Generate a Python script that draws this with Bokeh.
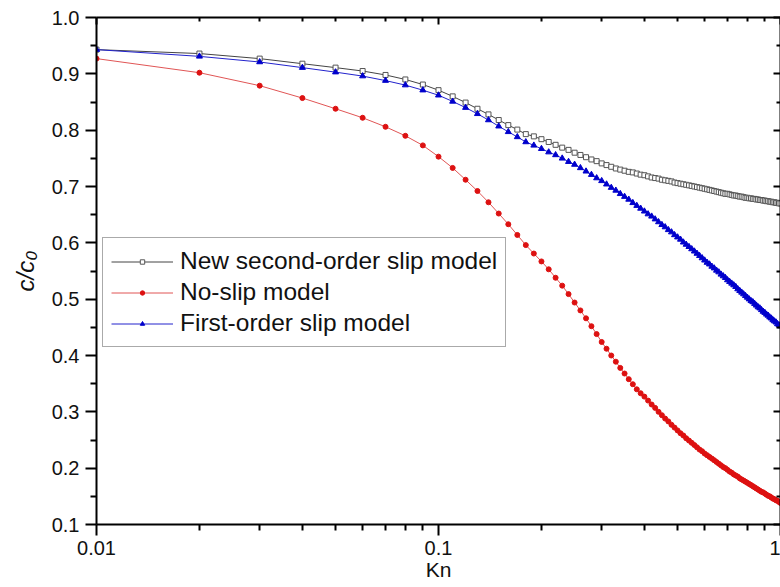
from bokeh.plotting import figure
from bokeh.models import (FixedTicker, LogAxis, LinearAxis, Legend, LegendItem,
                          CustomJSTickFormatter, Range1d)
from bokeh.embed import file_html
from bokeh.resources import INLINE

# ---- data ----
kn = [0.01, 0.02, 0.03, 0.04, 0.05, 0.06, 0.07, 0.08, 0.09, 0.10,
      0.11, 0.12, 0.13, 0.14, 0.15, 0.16, 0.17, 0.18, 0.19, 0.20,
      0.21, 0.22, 0.23, 0.24, 0.25, 0.26, 0.27, 0.28, 0.29, 0.30,
      0.31, 0.32, 0.33, 0.34, 0.35, 0.36, 0.37, 0.38, 0.39, 0.40,
      0.41, 0.42, 0.43, 0.44, 0.45, 0.46, 0.47, 0.48, 0.49, 0.50,
      0.51, 0.52, 0.53, 0.54, 0.55, 0.56, 0.57, 0.58, 0.59, 0.60,
      0.61, 0.62, 0.63, 0.64, 0.65, 0.66, 0.67, 0.68, 0.69, 0.70,
      0.71, 0.72, 0.73, 0.74, 0.75, 0.76, 0.77, 0.78, 0.79, 0.80,
      0.81, 0.82, 0.83, 0.84, 0.85, 0.86, 0.87, 0.88, 0.89, 0.90,
      0.91, 0.92, 0.93, 0.94, 0.95, 0.96, 0.97, 0.98, 0.99, 1.00]

second_order = [0.943, 0.936, 0.927, 0.918, 0.911, 0.905, 0.898, 0.890, 0.881, 0.871,
                0.860, 0.849, 0.838, 0.828, 0.818, 0.809, 0.801, 0.793, 0.789, 0.784,
                0.779, 0.774, 0.769, 0.765, 0.760, 0.756, 0.752, 0.748, 0.745, 0.741,
                0.738, 0.735, 0.732, 0.730, 0.728, 0.726, 0.725, 0.723, 0.721, 0.720,
                0.718, 0.716, 0.715, 0.714, 0.712, 0.711, 0.710, 0.709, 0.707, 0.706,
                0.705, 0.704, 0.703, 0.702, 0.701, 0.700, 0.699, 0.698, 0.697, 0.696,
                0.695, 0.694, 0.693, 0.692, 0.691, 0.690, 0.689, 0.688, 0.687, 0.687,
                0.686, 0.685, 0.684, 0.684, 0.683, 0.682, 0.682, 0.681, 0.680, 0.680,
                0.679, 0.679, 0.678, 0.678, 0.677, 0.677, 0.676, 0.676, 0.675, 0.675,
                0.674, 0.674, 0.673, 0.673, 0.672, 0.672, 0.671, 0.671, 0.670, 0.670]

no_slip = [0.927, 0.902, 0.879, 0.857, 0.838, 0.822, 0.806, 0.790, 0.773, 0.753,
           0.733, 0.712, 0.692, 0.672, 0.652, 0.633, 0.614, 0.596, 0.581, 0.567,
           0.553, 0.538, 0.524, 0.509, 0.494, 0.480, 0.466, 0.452, 0.438, 0.424,
           0.412, 0.400, 0.389, 0.378, 0.368, 0.358, 0.349, 0.340, 0.333, 0.327,
           0.320, 0.313, 0.307, 0.300, 0.294, 0.288, 0.283, 0.277, 0.272, 0.267,
           0.262, 0.258, 0.253, 0.249, 0.245, 0.241, 0.237, 0.233, 0.230, 0.226,
           0.223, 0.220, 0.217, 0.214, 0.211, 0.208, 0.205, 0.202, 0.200, 0.197,
           0.194, 0.192, 0.189, 0.187, 0.185, 0.182, 0.180, 0.178, 0.176, 0.174,
           0.172, 0.170, 0.168, 0.166, 0.164, 0.162, 0.160, 0.158, 0.157, 0.155,
           0.153, 0.151, 0.150, 0.148, 0.146, 0.145, 0.143, 0.142, 0.140, 0.138]

first_order = [0.943, 0.931, 0.921, 0.911, 0.903, 0.896, 0.888, 0.880, 0.871, 0.862,
               0.851, 0.840, 0.829, 0.818, 0.807, 0.797, 0.788, 0.779, 0.773, 0.767,
               0.761, 0.756, 0.750, 0.744, 0.739, 0.733, 0.727, 0.721, 0.715, 0.710,
               0.704, 0.698, 0.693, 0.687, 0.682, 0.677, 0.671, 0.666, 0.661, 0.656,
               0.651, 0.647, 0.642, 0.637, 0.632, 0.628, 0.623, 0.619, 0.614, 0.610,
               0.606, 0.601, 0.597, 0.593, 0.589, 0.585, 0.581, 0.577, 0.573, 0.569,
               0.565, 0.562, 0.558, 0.555, 0.551, 0.548, 0.544, 0.541, 0.538, 0.534,
               0.531, 0.528, 0.525, 0.522, 0.518, 0.515, 0.512, 0.509, 0.506, 0.503,
               0.500, 0.497, 0.495, 0.492, 0.489, 0.486, 0.484, 0.481, 0.478, 0.476,
               0.473, 0.471, 0.468, 0.466, 0.463, 0.461, 0.459, 0.456, 0.454, 0.452]

series_names = ["New second-order slip model", "No-slip model", "First-order slip model"]

x_major = [0.01, 0.1, 1.0]
x_minor = [0.02, 0.03, 0.04, 0.05, 0.06, 0.07, 0.08, 0.09,
           0.2, 0.3, 0.4, 0.5, 0.6, 0.7, 0.8, 0.9]
y_major = [0.1, 0.2, 0.3, 0.4, 0.5, 0.6, 0.7, 0.8, 0.9, 1.0]
y_minor = [0.15, 0.25, 0.35, 0.45, 0.55, 0.65, 0.75, 0.85, 0.95]

FONT = "Liberation Sans"

p = figure(width=780, height=586, x_axis_type="log",
           x_range=Range1d(0.01, 1.0), y_range=Range1d(0.1, 1.0),
           output_backend="svg", toolbar_location=None,
           min_border_left=96, min_border_right=0, min_border_top=17, min_border_bottom=62,
           background_fill_color="white", border_fill_color="white")
p.outline_line_color = None
p.xgrid.visible = False
p.ygrid.visible = False

xt = FixedTicker(ticks=x_major, minor_ticks=x_minor)
yt = FixedTicker(ticks=y_major, minor_ticks=y_minor)

# bottom axis
xa = p.xaxis[0]
xa.ticker = xt
xa.formatter = CustomJSTickFormatter(code="return tick.toString();")
xa.axis_label = "Kn"
# left axis
ya = p.yaxis[0]
ya.ticker = yt
ya.formatter = CustomJSTickFormatter(code="return tick.toFixed(1);")
ya.axis_label = "c/c\u2080"

for ax in (xa, ya):
    ax.axis_line_width = 2
    ax.axis_line_color = "black"
    ax.major_tick_line_width = 2
    ax.minor_tick_line_width = 2
    ax.major_tick_out = 11
    ax.major_tick_in = 0
    ax.minor_tick_out = 6
    ax.minor_tick_in = 0
    ax.major_label_text_font = FONT
    ax.major_label_text_font_size = "20px"
    ax.major_label_text_color = "#111111"
    ax.axis_label_text_font = FONT
    ax.axis_label_text_font_size = "23px"
    ax.axis_label_text_color = "#111111"

xa.axis_label_text_font_style = "normal"
ya.axis_label_text_font_style = "italic"
xa.major_label_standoff = 5
xa.axis_label_standoff = 0
xa.axis_label_text_font_size = "21px"
ya.major_label_standoff = 6
ya.axis_label_standoff = 10
ya.axis_label_text_font_size = "24px"

# mirrored top / right axes (ticks inward, no labels)
top = LogAxis(ticker=xt, formatter=CustomJSTickFormatter(code="return '';"))
right = LinearAxis(ticker=yt, formatter=CustomJSTickFormatter(code="return '';"))
for ax in (top, right):
    ax.axis_line_width = 2
    ax.axis_line_color = "black"
    ax.major_tick_line_width = 2
    ax.minor_tick_line_width = 2
    ax.major_tick_in = 7
    ax.major_tick_out = 0
    ax.minor_tick_in = 4
    ax.minor_tick_out = 0
    ax.major_label_text_font_size = "0px"
    ax.major_label_standoff = 0
p.add_layout(top, "above")
p.add_layout(right, "right")

# series
l1 = p.line(kn, second_order, line_color="#444444", line_width=1)
m1 = p.scatter(kn, second_order, marker="square", size=5,
               fill_color="white", line_color="#555555", line_width=1)
l2 = p.line(kn, no_slip, line_color="#e05555", line_width=1)
m2 = p.scatter(kn, no_slip, marker="circle", size=5,
               fill_color="#dd1111", line_color="#dd1111", line_width=1)
l3 = p.line(kn, first_order, line_color="#2222cc", line_width=1)
m3 = p.scatter(kn, first_order, marker="triangle", size=6,
               fill_color="#0000cc", line_color="#0000cc", line_width=1)

legend = Legend(items=[
    LegendItem(label=series_names[0], renderers=[l1, m1]),
    LegendItem(label=series_names[1], renderers=[l2, m2]),
    LegendItem(label=series_names[2], renderers=[l3, m3]),
], location=(6, 177))
legend.label_text_font = FONT
legend.label_text_font_size = "24.5px"
legend.label_text_color = "#111111"
legend.glyph_width = 62
legend.glyph_height = 11
legend.label_height = 30
legend.label_standoff = 7
legend.spacing = 1
legend.padding = 8
legend.margin = 0
legend.border_line_color = "#555555"
legend.border_line_width = 1
legend.background_fill_color = "white"
legend.background_fill_alpha = 1
p.add_layout(legend, "center")

open("out.html", "w").write(file_html(p, INLINE))
